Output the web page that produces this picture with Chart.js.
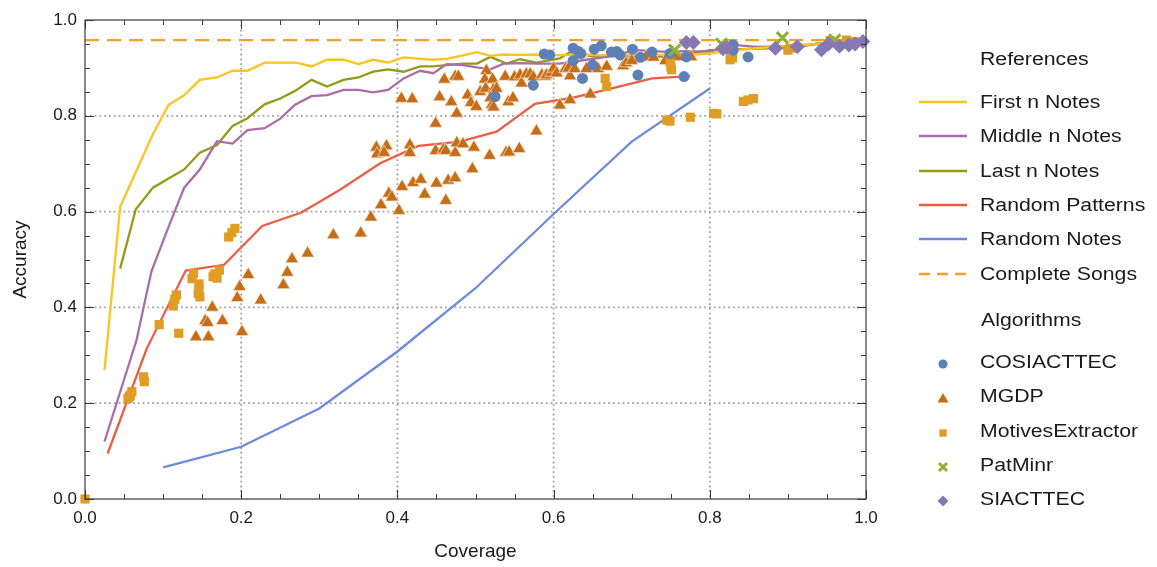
<!DOCTYPE html>
<html>
<head>
<meta charset="utf-8">
<script src="https://cdn.jsdelivr.net/npm/chart.js@4.4.0/dist/chart.umd.min.js"></script>
<style>
  html, body { margin: 0; padding: 0; background: #fff; }
  #wrap { position: relative; width: 1157px; height: 567px; }
  #chart { position: absolute; left: 0; top: 0; }
  #legend { position: absolute; left: 0; top: 0; width: 1157px; height: 567px; pointer-events: none;
            font-family: "Liberation Sans", Arial, sans-serif; font-size: 18px; color: #1a1a1a; }
  .lg { position: absolute; white-space: nowrap; line-height: 20px; transform-origin: 0 50%; transform: scaleX(1.18); }
  .sw { position: absolute; line-height: 0; }
  .sw svg { display: block; }
</style>
</head>
<body>
<div id="wrap">
  <canvas id="chart" width="1157" height="567"></canvas>
  <div id="legend"></div>
</div>
<script>
// reference curves
const firstCov = [0.025, 0.045, 0.087, 0.107, 0.127, 0.147, 0.169, 0.189, 0.208, 0.230, 0.250, 0.270, 0.290, 0.310, 0.331, 0.350, 0.369, 0.388, 0.408, 0.429, 0.446, 0.463, 0.484, 0.502, 0.519, 0.536, 0.557, 0.578, 0.60, 0.62, 0.64, 0.66, 0.68, 0.70, 0.72, 0.74, 0.76, 0.78, 0.80, 0.82, 0.84, 0.86, 0.88, 0.90, 0.92, 0.94, 0.96, 0.98, 0.996];
const firstAcc = [0.269, 0.61, 0.762, 0.823, 0.843, 0.875, 0.88, 0.894, 0.894, 0.911, 0.911, 0.911, 0.903, 0.917, 0.917, 0.908, 0.917, 0.911, 0.922, 0.919, 0.917, 0.919, 0.926, 0.933, 0.925, 0.928, 0.927, 0.928, 0.926, 0.927, 0.928, 0.926, 0.929, 0.927, 0.928, 0.927, 0.929, 0.928, 0.930, 0.935, 0.938, 0.941, 0.944, 0.946, 0.948, 0.950, 0.952, 0.954, 0.955];

const middleCov = [0.025, 0.066, 0.085, 0.107, 0.127, 0.147, 0.169, 0.189, 0.208, 0.230, 0.250, 0.269, 0.290, 0.310, 0.331, 0.350, 0.369, 0.388, 0.408, 0.429, 0.446, 0.463, 0.484, 0.502, 0.519, 0.536, 0.557, 0.578, 0.608, 0.642, 0.668, 0.706, 0.74, 0.77, 0.80, 0.83, 0.86, 0.89, 0.92, 0.95, 0.98, 0.996];
const middleAcc = [0.12, 0.332, 0.475, 0.568, 0.65, 0.688, 0.747, 0.742, 0.770, 0.774, 0.794, 0.823, 0.841, 0.843, 0.854, 0.854, 0.849, 0.854, 0.878, 0.894, 0.889, 0.908, 0.906, 0.901, 0.897, 0.909, 0.910, 0.909, 0.909, 0.917, 0.923, 0.937, 0.934, 0.935, 0.934, 0.948, 0.944, 0.945, 0.948, 0.950, 0.953, 0.955];

const lastCov = [0.045, 0.065, 0.087, 0.107, 0.127, 0.147, 0.169, 0.189, 0.208, 0.230, 0.250, 0.269, 0.290, 0.310, 0.331, 0.350, 0.369, 0.388, 0.408, 0.429, 0.446, 0.463, 0.484, 0.502, 0.519, 0.540, 0.557, 0.578, 0.608, 0.621, 0.65, 0.70, 0.749, 0.80, 0.84, 0.877, 0.91, 0.937, 0.97, 0.996];
const lastAcc = [0.481, 0.605, 0.65, 0.669, 0.688, 0.723, 0.739, 0.779, 0.795, 0.824, 0.836, 0.852, 0.875, 0.861, 0.875, 0.880, 0.892, 0.897, 0.892, 0.903, 0.903, 0.906, 0.909, 0.909, 0.923, 0.909, 0.918, 0.911, 0.92, 0.933, 0.924, 0.925, 0.923, 0.937, 0.939, 0.941, 0.942, 0.951, 0.950, 0.955];

const randPatCov = [0.029, 0.079, 0.129, 0.178, 0.227, 0.277, 0.326, 0.378, 0.427, 0.480, 0.527, 0.576, 0.625, 0.672, 0.726, 0.775];
const randPatAcc = [0.095, 0.314, 0.477, 0.489, 0.570, 0.598, 0.645, 0.701, 0.737, 0.746, 0.767, 0.825, 0.838, 0.856, 0.878, 0.883];

const randNoteCov = [0.1, 0.2, 0.3, 0.4, 0.5, 0.6, 0.7, 0.8];
const randNoteAcc = [0.066, 0.109, 0.189, 0.308, 0.44, 0.595, 0.746, 0.857];

const completeSongsAcc = 0.958;

// algorithm results, [coverage, accuracy]
const cosiacttec = [[0.525, 0.84], [0.574, 0.864], [0.588, 0.929], [0.595, 0.927], [0.625, 0.941], [0.632, 0.934], [0.635, 0.930], [0.625, 0.915], [0.637, 0.878], [0.650, 0.906], [0.652, 0.939], [0.661, 0.946], [0.674, 0.933], [0.681, 0.934], [0.685, 0.927], [0.701, 0.939], [0.708, 0.885], [0.711, 0.922], [0.726, 0.933], [0.749, 0.930], [0.767, 0.882], [0.770, 0.923], [0.830, 0.948], [0.830, 0.937], [0.849, 0.923]];

const mgdp = [[0.142, 0.338], [0.158, 0.338], [0.154, 0.372], [0.157, 0.368], [0.176, 0.372], [0.163, 0.40], [0.195, 0.42], [0.198, 0.443], [0.209, 0.468], [0.201, 0.349], [0.225, 0.415], [0.254, 0.447], [0.259, 0.473], [0.265, 0.501], [0.285, 0.513],
  [0.318, 0.551], [0.353, 0.555], [0.366, 0.588], [0.379, 0.614], [0.389, 0.638], [0.393, 0.630], [0.402, 0.602], [0.406, 0.652], [0.420, 0.660], [0.430, 0.667], [0.435, 0.636], [0.450, 0.659], [0.462, 0.623], [0.465, 0.665], [0.474, 0.670],
  [0.373, 0.734], [0.374, 0.72], [0.386, 0.737], [0.383, 0.723], [0.416, 0.739], [0.416, 0.723], [0.449, 0.727], [0.459, 0.73], [0.462, 0.727], [0.474, 0.723], [0.476, 0.743], [0.484, 0.741], [0.498, 0.734], [0.496, 0.689], [0.518, 0.717], [0.539, 0.723], [0.543, 0.724], [0.556, 0.731], [0.578, 0.768],
  [0.449, 0.784], [0.476, 0.805], [0.469, 0.829], [0.405, 0.836], [0.419, 0.835], [0.454, 0.839], [0.460, 0.876], [0.474, 0.882], [0.478, 0.882], [0.49, 0.843], [0.494, 0.827], [0.501, 0.819], [0.506, 0.85], [0.514, 0.894], [0.512, 0.876], [0.522, 0.876], [0.513, 0.857], [0.523, 0.855], [0.527, 0.857], [0.519, 0.837], [0.521, 0.823], [0.523, 0.818],
  [0.538, 0.882], [0.542, 0.829], [0.548, 0.837], [0.550, 0.881], [0.557, 0.885], [0.559, 0.868], [0.565, 0.887], [0.570, 0.887], [0.574, 0.881], [0.585, 0.885], [0.589, 0.882], [0.591, 0.885], [0.597, 0.890], [0.6, 0.899], [0.604, 0.889], [0.608, 0.822], [0.615, 0.898], [0.619, 0.899], [0.621, 0.883], [0.621, 0.833], [0.627, 0.898], [0.642, 0.898], [0.647, 0.845], [0.657, 0.898], [0.668, 0.903], [0.689, 0.904], [0.693, 0.91], [0.70, 0.915], [0.718, 0.922], [0.728, 0.922], [0.743, 0.915], [0.758, 0.923], [0.776, 0.923]];

const motivesExtractor = [[0.0, 0.0], [0.055, 0.21], [0.058, 0.217], [0.06, 0.224], [0.057, 0.214], [0.075, 0.255], [0.076, 0.245], [0.095, 0.364], [0.12, 0.346], [0.113, 0.403], [0.115, 0.417], [0.117, 0.426], [0.137, 0.46], [0.139, 0.471], [0.146, 0.449], [0.145, 0.429], [0.147, 0.422], [0.146, 0.438], [0.164, 0.464], [0.169, 0.461], [0.172, 0.478], [0.166, 0.47], [0.184, 0.547], [0.188, 0.556], [0.192, 0.565],
  [0.666, 0.878], [0.668, 0.861], [0.749, 0.913], [0.75, 0.903], [0.751, 0.896], [0.745, 0.791], [0.749, 0.789], [0.775, 0.797], [0.805, 0.805], [0.809, 0.804], [0.826, 0.917], [0.829, 0.921], [0.843, 0.83], [0.849, 0.833], [0.856, 0.836], [0.90, 0.937], [0.903, 0.941], [0.954, 0.957], [0.975, 0.958], [0.985, 0.955]];

const patMinr = [[0.755, 0.937], [0.815, 0.95], [0.893, 0.963], [0.96, 0.958]];

const siacttec = [[0.77, 0.953], [0.779, 0.953], [0.817, 0.940], [0.822, 0.942], [0.884, 0.941], [0.912, 0.944], [0.943, 0.938], [0.952, 0.950], [0.966, 0.945], [0.978, 0.948], [0.986, 0.950], [0.996, 0.955]];

const refNames = ['First n Notes', 'Middle n Notes', 'Last n Notes', 'Random Patterns', 'Random Notes', 'Complete Songs'];
const refColors = ['#FFC31F', '#AC6CA8', '#979A14', '#EB5E45', '#6C8BDD', '#F8A023'];
const algNames = ['COSIACTTEC', 'MGDP', 'MotivesExtractor', 'PatMinr', 'SIACTTEC'];
const algColors = ['#5E81B5', '#C56E1A', '#E19C24', '#8FB032', '#8778B3'];
const xTickStep = 0.2;
const gridValues = [0.2, 0.4, 0.6, 0.8];

const FONT = '"Liberation Sans", Arial, sans-serif';

function zipXY(cov, acc) { return cov.map((c, i) => ({ x: c, y: acc[i] })); }
function fromPairs(p) { return p.map(([x, y]) => ({ x: x, y: y })); }

function lineSet(i, data, extra) {
  return Object.assign({
    label: refNames[i], data: data, showLine: true, borderColor: refColors[i],
    backgroundColor: refColors[i], borderWidth: 2.3, pointRadius: 0, tension: 0, fill: false, order: 20 + i
  }, extra || {});
}

function pointSet(i, data, style, radius, order, extra) {
  return Object.assign({
    label: algNames[i], data: data, showLine: false, pointStyle: style, pointRadius: radius,
    backgroundColor: algColors[i], borderColor: algColors[i], borderWidth: 0, clip: false, order: order
  }, extra || {});
}

const datasets = [
  pointSet(4, fromPairs(siacttec), 'rectRot', 7.5, 1),
  pointSet(3, fromPairs(patMinr), 'crossRot', 8, 2, { borderWidth: 3.2 }),
  pointSet(0, fromPairs(cosiacttec), 'circle', 5.5, 3),
  pointSet(2, fromPairs(motivesExtractor), 'rect', 6.5, 4),
  pointSet(1, fromPairs(mgdp), 'triangle', 7.5, 5, { borderColor: 'rgba(255,230,205,0.85)', borderWidth: 0.8 }),
  lineSet(0, zipXY(firstCov, firstAcc)),
  lineSet(1, zipXY(middleCov, middleAcc)),
  lineSet(2, zipXY(lastCov, lastAcc)),
  lineSet(3, zipXY(randPatCov, randPatAcc)),
  lineSet(4, zipXY(randNoteCov, randNoteAcc)),
  lineSet(5, [{ x: 0, y: completeSongsAcc }, { x: 1, y: completeSongsAcc }], { borderDash: [14, 8] })
];

// dotted grid behind the data, framed axes with inward ticks on top
const framePlugin = {
  id: 'frame',
  beforeDatasetsDraw(chart) {
    const { ctx, chartArea: a, scales: { x, y } } = chart;
    ctx.save();
    ctx.strokeStyle = '#a0a0a0';
    ctx.lineWidth = 1.8;
    ctx.setLineDash([1.8, 3]);
    gridValues.forEach(v => {
      const px = x.getPixelForValue(v);
      ctx.beginPath(); ctx.moveTo(px, a.top); ctx.lineTo(px, a.bottom); ctx.stroke();
      const py = y.getPixelForValue(v);
      ctx.beginPath(); ctx.moveTo(a.left, py); ctx.lineTo(a.right, py); ctx.stroke();
    });
    ctx.restore();
  },
  afterDatasetsDraw(chart) {
    const { ctx, chartArea: a, scales: { x, y } } = chart;
    ctx.save();
    ctx.strokeStyle = '#3a3a3a';
    ctx.lineWidth = 1.2;
    ctx.strokeRect(a.left, a.top, a.right - a.left, a.bottom - a.top);
    ctx.lineWidth = 1;
    for (let k = 0; k <= 20; k++) {
      const v = k / 20;
      const len = (k % 4 === 0) ? 9 : 5;
      const px = Math.round(x.getPixelForValue(v)) + 0.5;
      const py = Math.round(y.getPixelForValue(v)) + 0.5;
      ctx.beginPath();
      ctx.moveTo(px, a.bottom); ctx.lineTo(px, a.bottom - len);
      ctx.moveTo(px, a.top); ctx.lineTo(px, a.top + len);
      ctx.moveTo(a.left, py); ctx.lineTo(a.left + len, py);
      ctx.moveTo(a.right, py); ctx.lineTo(a.right - len, py);
      ctx.stroke();
    }
    ctx.restore();
  }
};

new Chart(document.getElementById('chart'), {
  type: 'scatter',
  data: { datasets: datasets },
  options: {
    responsive: false,
    animation: false,
    layout: { padding: { left: 0, right: 291, top: 20, bottom: 0 } },
    plugins: { legend: { display: false }, tooltip: { enabled: false } },
    scales: {
      x: {
        type: 'linear', min: 0, max: 1,
        afterFit: s => { s.height = 68; },
        grid: { display: false, drawTicks: false },
        border: { display: false },
        ticks: { stepSize: xTickStep, autoSkip: false, maxRotation: 0, padding: 9, color: '#1a1a1a',
                 font: { size: 17, family: FONT }, callback: v => v.toFixed(1) },
        title: { display: true, text: 'Coverage', color: '#1a1a1a', font: { size: 19, family: FONT },
                 padding: { top: 0, bottom: 4 } }
      },
      y: {
        type: 'linear', min: 0, max: 1,
        afterFit: s => { s.width = 85; },
        grid: { display: false, drawTicks: false },
        border: { display: false },
        ticks: { stepSize: xTickStep, autoSkip: false, padding: 8, color: '#1a1a1a',
                 font: { size: 17, family: FONT }, callback: v => v.toFixed(1) },
        title: { display: true, text: 'Accuracy', color: '#1a1a1a', font: { size: 19, family: FONT },
                 padding: { top: 9, bottom: 0 } }
      }
    }
  },
  plugins: [framePlugin]
});

// legend: two groups, references (lines) and algorithms (markers)
const legend = document.getElementById('legend');
function addText(txt, left, cy) {
  const d = document.createElement('div');
  d.className = 'lg'; d.textContent = txt;
  d.style.left = left + 'px'; d.style.top = (cy - 10) + 'px';
  legend.appendChild(d);
}
function addSvg(svg, left, top) {
  const d = document.createElement('div');
  d.className = 'sw'; d.style.left = left + 'px'; d.style.top = top + 'px';
  d.innerHTML = svg;
  legend.appendChild(d);
}
addText('References', 980, 59);
refNames.forEach((n, i) => {
  const cy = 102 + i * 34.3;
  const dash = i === 5 ? ' stroke-dasharray="11,7"' : '';
  addSvg('<svg width="50" height="6"><line x1="0" y1="3" x2="48" y2="3" stroke="' + refColors[i] + '" stroke-width="2.4"' + dash + '/></svg>', 919, cy - 3);
  addText(n, 980, cy);
});
addText('Algorithms', 981, 320);
const markerSvg = [
  c => '<circle cx="7" cy="7" r="4.6" fill="' + c + '"/>',
  c => '<polygon points="7,2 12.5,11.5 1.5,11.5" fill="' + c + '"/>',
  c => '<rect x="3.3" y="3.3" width="7.4" height="7.4" fill="' + c + '"/>',
  c => '<path d="M3,3 L11,11 M11,3 L3,11" stroke="' + c + '" stroke-width="3"/>',
  c => '<polygon points="7,1.5 12.5,7 7,12.5 1.5,7" fill="' + c + '"/>'
];
algNames.forEach((n, i) => {
  const cy = 362 + i * 34.3;
  addSvg('<svg width="14" height="14">' + markerSvg[i](algColors[i]) + '</svg>', 936, cy - 5);
  addText(n, 980, cy);
});
</script>
</body>
</html>
